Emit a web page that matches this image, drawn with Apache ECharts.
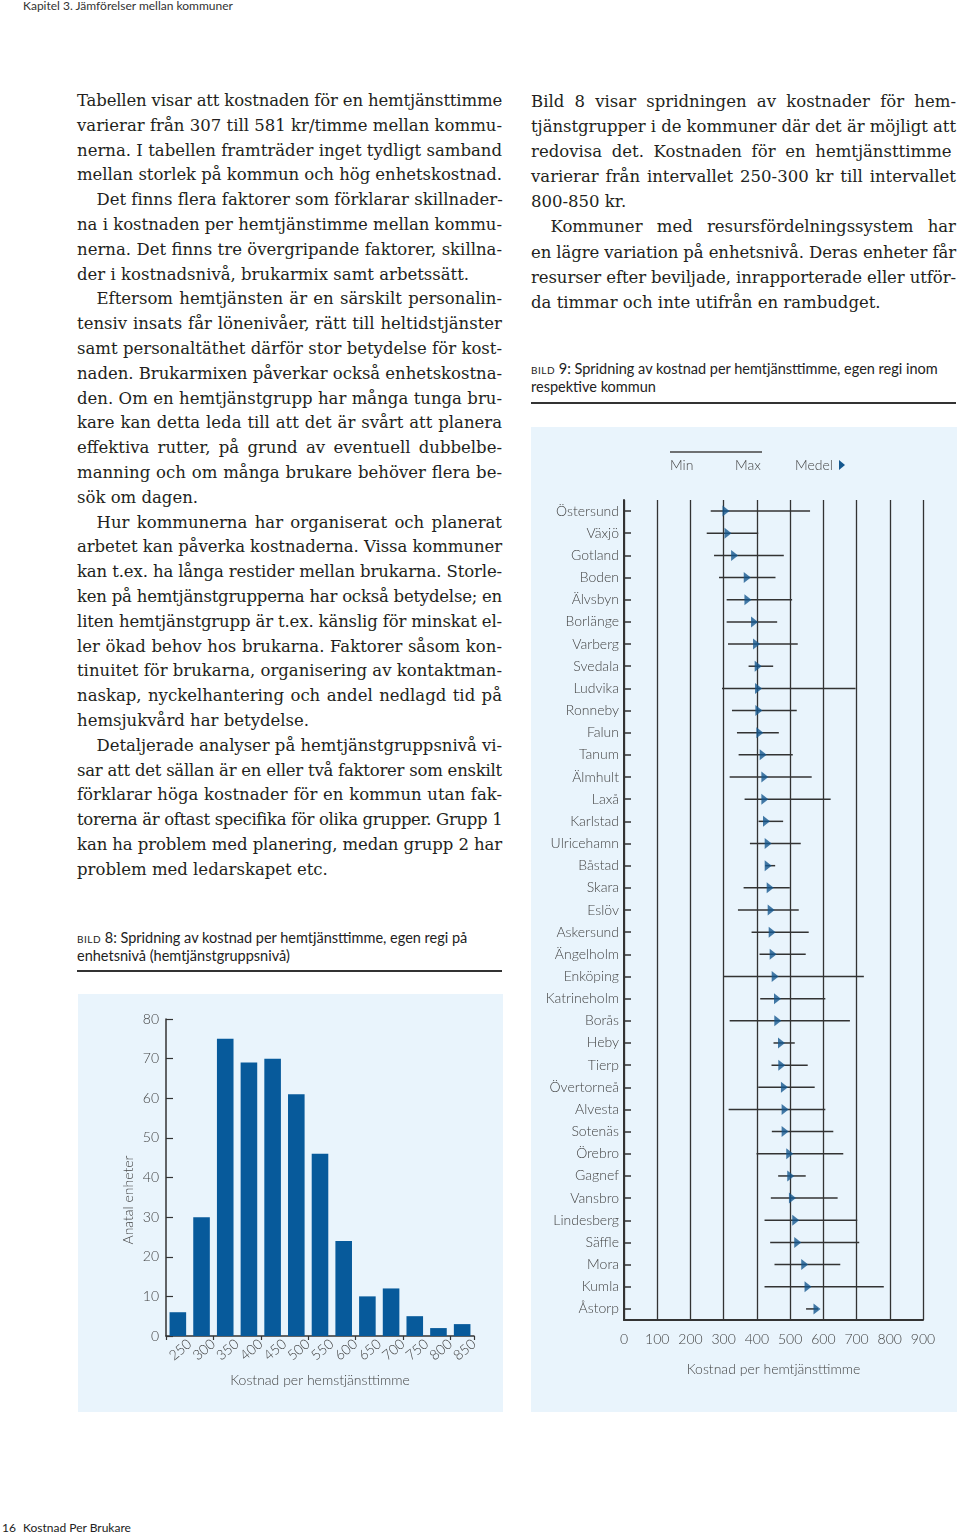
<!DOCTYPE html>
<html><head><meta charset="utf-8">
<script src="https://cdn.jsdelivr.net/npm/echarts@6/dist/echarts.min.js"></script>
<style>
html,body{margin:0;padding:0;background:#fff;}
body{width:960px;height:1536px;position:relative;overflow:hidden;}
.hdr{position:absolute;left:23px;top:-1px;font:12px/14px Lato,"Open Sans",sans-serif;color:#333;}
.ftr{position:absolute;top:1521px;font:12px/14px Lato,"Open Sans",sans-serif;color:#222;}
.col{position:absolute;top:89px;width:425px;font-family:"DejaVu Serif",serif;font-size:16.5px;line-height:24.8px;color:#231f20;}
.ln{white-space:nowrap;height:24.8px;}
.cap{position:absolute;width:425px;font:14.5px/17.5px Lato,"Open Sans",sans-serif;color:#222;}
.cap .sc{font-variant:small-caps;letter-spacing:0.5px;}
.rule{position:absolute;height:1.6px;background:#333;width:425px;}
.chart{position:absolute;}
</style></head>
<body>
<div class="hdr">Kapitel 3. Jämförelser mellan kommuner</div>
<div class="col" id="colL" style="left:77px"></div>
<div class="col" id="colR" style="left:531px"></div>
<div class="cap" style="left:77px;top:929px"><span class="sc">bild</span> 8: Spridning av kostnad per hemtjänsttimme, egen regi på<br>enhetsnivå (hemtjänstgruppsnivå)</div>
<div class="rule" style="left:77px;top:970px"></div>
<div class="cap" style="left:531px;top:360px"><span class="sc">bild</span> 9: Spridning av kostnad per hemtjänsttimme, egen regi inom<br>respektive kommun</div>
<div class="rule" style="left:531px;top:402px"></div>
<div class="chart" id="c1" style="left:78px;top:994px;width:425px;height:418px"></div>
<div class="chart" id="c2" style="left:531px;top:427px;width:426px;height:985px"></div>
<div class="ftr" style="left:2px">16</div>
<div class="ftr" style="left:23px">Kostnad Per Brukare</div>
<script>
// ---------- chart data ----------
const costBins = ['250','300','350','400','450','500','550','600','650','700','750','800','850'];
const unitCounts = [6,30,75,69,70,61,46,24,10,12,5,2,3];
const countTicks = [0,10,20,30,40,50,60,70,80];

const municipalities = ['Östersund','Växjö','Gotland','Boden','Älvsbyn','Borlänge','Varberg','Svedala','Ludvika','Ronneby','Falun','Tanum','Älmhult','Laxå','Karlstad','Ulricehamn','Båstad','Skara','Eslöv','Askersund','Ängelholm','Enköping','Katrineholm','Borås','Heby','Tierp','Övertorneå','Alvesta','Sotenäs','Örebro','Gagnef','Vansbro','Lindesberg','Säffle','Mora','Kumla','Åstorp'];
const minCost  = [261,249,271,286,309,309,313,375,295,325,340,345,318,363,405,379,425,360,343,384,408,299,410,318,450,444,404,315,445,399,464,442,423,440,453,423,548];
const maxCost  = [560,404,481,456,506,461,523,449,697,520,466,508,565,622,479,532,455,499,526,556,547,722,606,680,514,553,574,606,630,660,547,643,702,708,651,782,584];
const meanCost = [307,313,333,371,373,393,399,404,405,406,409,419,424,424,429,434,434,440,443,446,449,455,462,463,474,475,483,485,485,499,502,507,517,523,544,554,581];

// ---------- body text ----------
const leftParas = [
 ['Tabellen visar att kostnaden för en hemtjänsttimme','varierar från 307 till 581 kr/timme mellan kommu-','nerna. I tabellen framträder inget tydligt samband','mellan storlek på kommun och hög enhetskostnad.'],
 ['Det finns flera faktorer som förklarar skillnader-','na i kostnaden per hemtjänstimme mellan kommu-','nerna. Det finns tre övergripande faktorer, skillna-','der i kostnadsnivå, brukarmix samt arbetssätt.'],
 ['Eftersom hemtjänsten är en särskilt personalin-','tensiv insats får lönenivåer, rätt till heltidstjänster','samt personaltäthet därför stor betydelse för kost-','naden. Brukarmixen påverkar också enhetskostna-','den. Om en hemtjänstgrupp har många tunga bru-','kare kan detta leda till att det är svårt att planera','effektiva rutter, på grund av eventuell dubbelbe-','manning och om många brukare behöver flera be-','sök om dagen.'],
 ['Hur kommunerna har organiserat och planerat','arbetet kan påverka kostnaderna. Vissa kommuner','kan t.ex. ha långa restider mellan brukarna. Storle-','ken på hemtjänstgrupperna har också betydelse; en','liten hemtjänstgrupp är t.ex. känslig för minskat el-','ler ökad behov hos brukarna. Faktorer såsom kon-','tinuitet för brukarna, organisering av kontaktman-','naskap, nyckelhantering och andel nedlagd tid på','hemsjukvård har betydelse.'],
 ['Detaljerade analyser på hemtjänstgruppsnivå vi-','sar att det sällan är en eller två faktorer som enskilt','förklarar höga kostnader för en kommun utan fak-','torerna är oftast specifika för olika grupper. Grupp 1','kan ha problem med planering, medan grupp 2 har','problem med ledarskapet etc.']
];
const rightParas = [
 ['Bild 8 visar spridningen av kostnader för hem-','tjänstgrupper i de kommuner där det är möjligt att','redovisa det.  Kostnaden för en hemtjänsttimme','varierar från intervallet 250-300 kr till intervallet','800-850 kr.'],
 ['Kommuner med resursfördelningssystem har','en lägre variation på enhetsnivå. Deras enheter får','resurser efter beviljade, inrapporterade eller utför-','da timmar och inte utifrån en rambudget.']
];
function buildCol(id, paras, lh){
  const col = document.getElementById(id);
  paras.forEach((p,pi)=>{
    p.forEach((t,li)=>{
      const d = document.createElement('div');
      d.className='ln';
      d.style.height = lh+'px'; d.style.lineHeight = lh+'px';
      const indent = (pi>0 && li===0) ? 19.5 : 0;
      d.style.paddingLeft = indent+'px';
      const s = document.createElement('span');
      s.textContent = t;
      d.appendChild(s);
      d.dataset.indent = indent;
      d.dataset.just = (li < p.length-1) ? '1' : '0';
      col.appendChild(d);
    });
  });
}
buildCol('colL', leftParas, 24.8);
buildCol('colR', rightParas, 25.1);
function justify(){
  document.querySelectorAll('.ln').forEach(d=>{
    const s = d.firstChild;
    s.style.wordSpacing='0px'; s.style.letterSpacing='0px';
    const W = 425 - parseFloat(d.dataset.indent);
    const nat = s.getBoundingClientRect().width;
    const txt = s.textContent;
    if (nat > W) {
      s.style.letterSpacing = ((W-nat)/txt.length)+'px';
    } else if (d.dataset.just==='1') {
      const sp = (txt.match(/ /g)||[]).length;
      if (sp>0) s.style.wordSpacing = ((W-nat)/sp)+'px';
    }
  });
}
justify();
if (document.fonts && document.fonts.ready) document.fonts.ready.then(justify);

// ---------- charts ----------
const panelBg = '#e9f4fc';
const axisCol = '#333';
const labCol = '#444';
const fontFam = 'Lato, "Open Sans", sans-serif';

const c1 = echarts.init(document.getElementById('c1'), null, {renderer:'canvas'});
c1.setOption({
  backgroundColor: panelBg,
  animation: false,
  grid: {left: 88, top: 25, width: 308, height: 317},
  xAxis: [{
    type: 'category', data: costBins, boundaryGap: true,
    axisLine: {show: true, lineStyle: {color: axisCol, width: 1.5}},
    axisTick: {show: true, length: 4, lineStyle: {color: axisCol, width: 1.2}},
    axisLabel: {show: false},
    name: 'Kostnad per hemstjänsttimme', nameLocation: 'middle', nameGap: 37,
    nameTextStyle: {color: labCol, fontSize: 14, fontFamily: fontFam, fontWeight: 300}
  },{
    type: 'category', data: [''].concat(costBins), boundaryGap: false, position: 'bottom',
    axisLine: {show: false}, axisTick: {show: false},
    axisLabel: {interval: 0, rotate: 40, margin: 6, color: labCol, fontSize: 14, fontFamily: fontFam, fontWeight: 300}
  }],
  yAxis: {
    type: 'value', min: 0, max: 80, interval: 10,
    axisLine: {show: true, lineStyle: {color: axisCol, width: 1.5}},
    axisTick: {show: true, inside: true, length: 7, lineStyle: {color: axisCol, width: 1.2}},
    splitLine: {show: false},
    axisLabel: {margin: 7, color: labCol, fontSize: 14, fontFamily: fontFam, fontWeight: 300}
  },
  series: [{
    type: 'bar', xAxisIndex: 0, data: unitCounts,
    barCategoryGap: '30%', itemStyle: {color: '#075a9b'}
  }],
  graphic: [{
    type: 'text', x: 50, y: 206, rotation: Math.PI/2,
    style: {text: 'Anatal enheter', fill: labCol, font: '300 14px ' + fontFam, align: 'center', verticalAlign: 'middle'}
  }]
});

const markerPath = 'path://M0,0L10,6L0,12Z';
const markerCol = '#15588f';
const c2 = echarts.init(document.getElementById('c2'), null, {renderer:'canvas'});
c2.setOption({
  backgroundColor: panelBg,
  animation: false,
  grid: {left: 93, top: 73, width: 299, height: 820},
  xAxis: {
    type: 'value', min: 0, max: 900, interval: 100,
    axisLine: {show: true, lineStyle: {color: axisCol, width: 2}},
    axisTick: {show: false},
    splitLine: {show: true, lineStyle: {color: axisCol, width: 1.3}},
    axisLabel: {margin: 12, color: labCol, fontSize: 14, fontFamily: fontFam, fontWeight: 300},
    name: 'Kostnad per hemtjänsttimme', nameLocation: 'middle', nameGap: 42,
    nameTextStyle: {color: labCol, fontSize: 14, fontFamily: fontFam, fontWeight: 300}
  },
  yAxis: {
    type: 'category', data: municipalities, inverse: true,
    axisLine: {show: true, lineStyle: {color: axisCol, width: 2}},
    axisTick: {show: true, inside: true, alignWithLabel: true, length: 7, lineStyle: {color: axisCol, width: 1.5}},
    axisLabel: {interval: 0, margin: 5, color: labCol, fontSize: 14, fontFamily: fontFam, fontWeight: 300}
  },
  series: [{
    type: 'custom',
    data: municipalities.map((m,i)=>[minCost[i], maxCost[i], i]),
    encode: {x: [0,1], y: 2},
    renderItem: function(params, api){
      const a = api.coord([api.value(0), api.value(2)]);
      const b = api.coord([api.value(1), api.value(2)]);
      return {type:'line', shape:{x1:a[0], y1:a[1], x2:b[0], y2:b[1]}, style:{stroke:axisCol, lineWidth:1.5}};
    },
    z: 3
  },{
    type: 'scatter',
    data: meanCost.map((v,i)=>[v, i]),
    symbol: markerPath, symbolSize: [7, 11],
    itemStyle: {color: markerCol},
    z: 4
  }],
  graphic: [
    {type:'line', shape:{x1:139, y1:25, x2:231, y2:25}, style:{stroke:'#444', lineWidth:1.5}},
    {type:'text', x:139, y:38, style:{text:'Min', fill:labCol, font:'300 14px '+fontFam, verticalAlign:'middle'}},
    {type:'text', x:204, y:38, style:{text:'Max', fill:labCol, font:'300 14px '+fontFam, verticalAlign:'middle'}},
    {type:'text', x:264, y:38, style:{text:'Medel', fill:labCol, font:'300 14px '+fontFam, verticalAlign:'middle'}},
    {type:'polygon', shape:{points:[[308,33],[314,38],[308,43]]}, style:{fill:markerCol}}
  ]
});
</script>
</body></html>
